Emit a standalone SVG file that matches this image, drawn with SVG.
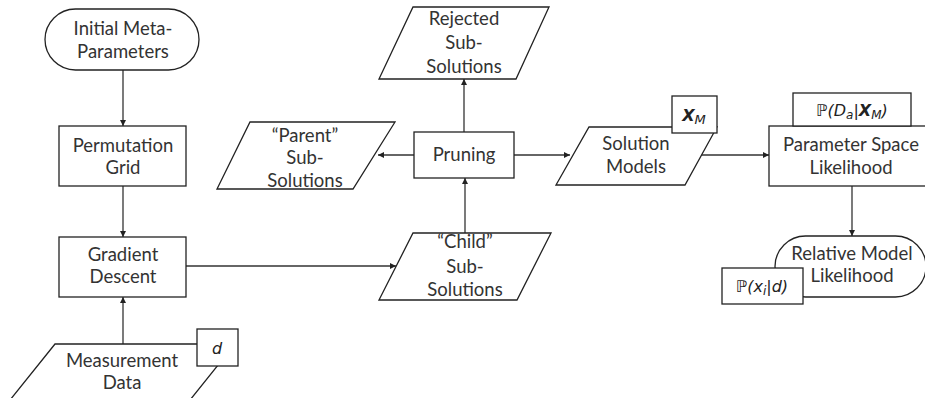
<svg xmlns="http://www.w3.org/2000/svg" width="925" height="398" viewBox="0 0 925 398">
<style>
.s{fill:#fff;stroke:#222;stroke-width:1.3}
.t{font-family:Lato,"Open Sans",sans-serif;font-size:18.5px;fill:#333;text-anchor:middle}
.m{font-family:"DejaVu Sans",sans-serif;font-size:16px;font-style:italic;fill:#222;text-anchor:middle}
.c{stroke:#333;stroke-width:1.3;fill:none;marker-end:url(#a)}
</style>
<defs>
<marker id="a" viewBox="0 0 8 8" refX="8" refY="4" markerWidth="6" markerHeight="6" markerUnits="userSpaceOnUse" orient="auto">
<path d="M0,0L8,4L0,8z" fill="#222"/>
</marker>
</defs>
<rect width="925" height="398" fill="#fff"/>
<g id="connectors">
<path class="c" d="M123,70V126"/>
<path class="c" d="M123,186V237"/>
<path class="c" d="M123,344V297"/>
<path class="c" d="M414,155H378"/>
<path class="c" d="M464,132V79"/>
<path class="c" d="M514,155H570"/>
<path class="c" d="M700,155H769"/>
<path class="c" d="M852,186V236"/>
<path class="c" d="M186,266H396"/>
<path class="c" d="M465,233V178"/>
</g>
<g id="initial">
<rect class="s" x="45" y="9" width="154" height="61" rx="30.5"/>
<text class="t" x="123" y="35">Initial Meta-</text>
<text class="t" x="123" y="58">Parameters</text>
</g>
<g id="permutation">
<rect class="s" x="59" y="126" width="127" height="60"/>
<text class="t" x="123" y="152">Permutation</text>
<text class="t" x="123" y="174">Grid</text>
</g>
<g id="gradient">
<rect class="s" x="59" y="237" width="127" height="60"/>
<text class="t" x="123" y="261">Gradient</text>
<text class="t" x="123" y="283">Descent</text>
</g>
<g id="measurement">
<path class="s" d="M55,344H235L182,410H2Z"/>
<text class="t" x="122" y="367">Measurement</text>
<text class="t" x="122" y="389">Data</text>
<rect class="s" x="197" y="329" width="41" height="37"/>
<text class="m" x="217" y="354">d</text>
</g>
<g id="parent">
<path class="s" d="M250,122H395L353,189H217Z"/>
<text class="t" x="305" y="142">“Parent”</text>
<text class="t" x="305" y="164">Sub-</text>
<text class="t" x="305" y="187">Solutions</text>
</g>
<g id="pruning">
<rect class="s" x="414" y="132" width="100" height="46"/>
<text class="t" x="464" y="161">Pruning</text>
</g>
<g id="rejected">
<path class="s" d="M413,7H549L516,79H379Z"/>
<text class="t" x="464" y="25">Rejected</text>
<text class="t" x="464" y="49">Sub-</text>
<text class="t" x="464" y="73">Solutions</text>
</g>
<g id="child">
<path class="s" d="M413,233H551L517,300H379Z"/>
<text class="t" x="465" y="248">“Child”</text>
<text class="t" x="465" y="273">Sub-</text>
<text class="t" x="465" y="296">Solutions</text>
</g>
<g id="solution">
<path class="s" d="M589,127H717L685,185H556Z"/>
<text class="t" x="636" y="150">Solution</text>
<text class="t" x="636" y="173">Models</text>
<rect class="s" x="672" y="96" width="45" height="37"/>
<text class="m" x="694" y="121" font-size="18"><tspan font-weight="bold">X</tspan><tspan font-size="13" dy="3">M</tspan></text>
</g>
<g id="paramspace">
<rect class="s" x="769" y="126" width="170" height="60"/>
<text class="t" x="851" y="151">Parameter Space</text>
<text class="t" x="851" y="174">Likelihood</text>
<rect class="s" x="793" y="93" width="118" height="33"/>
<text class="m" x="852" y="116">ℙ(D<tspan font-size="12" dy="3">a</tspan><tspan dy="-3">|</tspan><tspan font-weight="bold">X</tspan><tspan font-size="12" dy="3">M</tspan><tspan dy="-3">)</tspan></text>
</g>
<g id="relative">
<rect class="s" x="775" y="236" width="151" height="61" rx="30.5"/>
<text class="t" x="852" y="260">Relative Model</text>
<text class="t" x="852" y="282">Likelihood</text>
<rect class="s" x="722" y="268" width="81" height="36"/>
<text class="m" x="762" y="292">ℙ(x<tspan font-size="12" dy="3">i</tspan><tspan dy="-3">|d)</tspan></text>
</g>
</svg>
